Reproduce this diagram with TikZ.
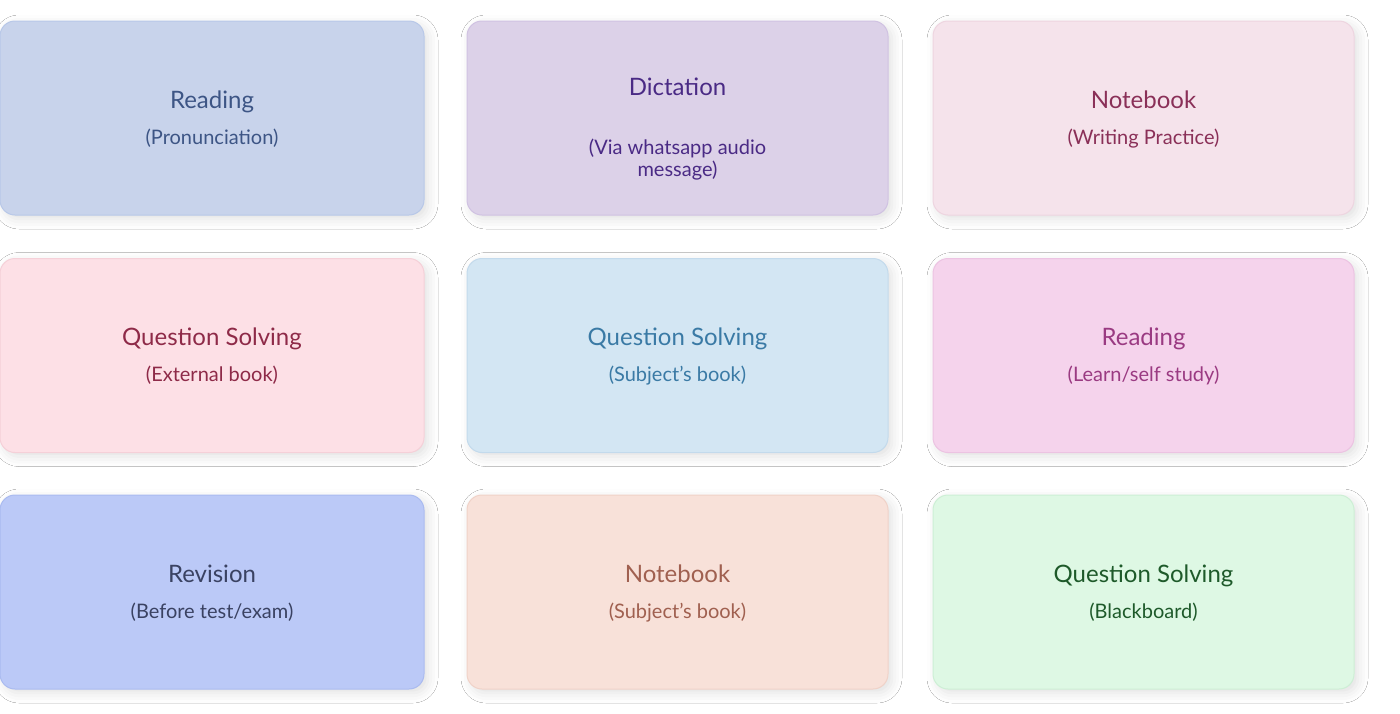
\documentclass[tikz,border=0pt]{standalone}
\usepackage{fontspec}
\setmainfont{Lato}
\usetikzlibrary{shadows.blur}
\definecolor{f1}{HTML}{C8D3EB}\definecolor{t1}{HTML}{3D5585}\definecolor{b1}{HTML}{B8C8E8}
\definecolor{f2}{HTML}{DCD1E8}\definecolor{t2}{HTML}{4A2A85}\definecolor{b2}{HTML}{D0C2E2}
\definecolor{f3}{HTML}{F5E3EB}\definecolor{t3}{HTML}{8A3058}\definecolor{b3}{HTML}{EED5E0}
\definecolor{f4}{HTML}{FDE0E6}\definecolor{t4}{HTML}{8E2A48}\definecolor{b4}{HTML}{F5D0D8}
\definecolor{f5}{HTML}{D3E6F3}\definecolor{t5}{HTML}{3A7AA5}\definecolor{b5}{HTML}{C3DAEC}
\definecolor{f6}{HTML}{F5D3EC}\definecolor{t6}{HTML}{9A3A82}\definecolor{b6}{HTML}{ECC3E2}
\definecolor{f7}{HTML}{BBC9F7}\definecolor{t7}{HTML}{3A4262}\definecolor{b7}{HTML}{AABBF0}
\definecolor{f8}{HTML}{F8E1D9}\definecolor{t8}{HTML}{A06050}\definecolor{b8}{HTML}{F0D2C8}
\definecolor{f9}{HTML}{DEF8E4}\definecolor{t9}{HTML}{1E5A2A}\definecolor{b9}{HTML}{CDEFD5}
\tikzset{card/.style={rounded corners=15pt,line width=1pt,minimum width=#1,minimum height=194pt,inner sep=0pt,
  blur shadow={shadow xshift=4pt,shadow yshift=-4pt,shadow blur radius=10pt,shadow opacity=12}},
  ttl/.style={font=\fontsize{24}{28}\selectfont},
  sub/.style={font=\fontsize{20}{22}\selectfont}}
\newcommand{\card}[9]{%
  \node[card=#9,fill=#4,draw=#5] (#1) at (#2,#3) {};
  \node[ttl,text=#6,anchor=base] (#1t) at ([yshift=10pt]#1.center) {#7};
  \node[sub,text=#6,anchor=base,align=center] (#1s) at ([yshift=-26pt]#1.center) {#8};}
\begin{document}
\begin{tikzpicture}[x=1pt,y=-1pt]
\useasboundingbox[fill=white] (0,0) rectangle (1400,713);
\card{a}{212}{118}{f1}{b1}{t1}{Reading}{(Pronunciation)}{424pt}
\node[card=421pt,fill=f2,draw=b2] (b) at (677.5,118) {};
\node[ttl,text=t2,anchor=base] (bt) at ([yshift=23pt]b.center) {Dictation};
\node[sub,text=t2,align=center,anchor=north] (bs) at ([yshift=-17pt]b.center) {(Via whatsapp audio\\message)};
\card{c}{1143.5}{118}{f3}{b3}{t3}{Notebook}{(Writing Practice)}{421pt}
\card{d}{212}{355.5}{f4}{b4}{t4}{Question Solving}{(External book)}{424pt}
\card{e}{677.5}{355.5}{f5}{b5}{t5}{Question Solving}{(Subject’s book)}{421pt}
\card{f}{1143.5}{355.5}{f6}{b6}{t6}{Reading}{(Learn/self study)}{421pt}
\card{g}{212}{592}{f7}{b7}{t7}{Revision}{(Before test/exam)}{424pt}
\card{h}{677.5}{592}{f8}{b8}{t8}{Notebook}{(Subject’s book)}{421pt}
\card{i}{1143.5}{592}{f9}{b9}{t9}{Question Solving}{(Blackboard)}{421pt}
\end{tikzpicture}
\end{document}
